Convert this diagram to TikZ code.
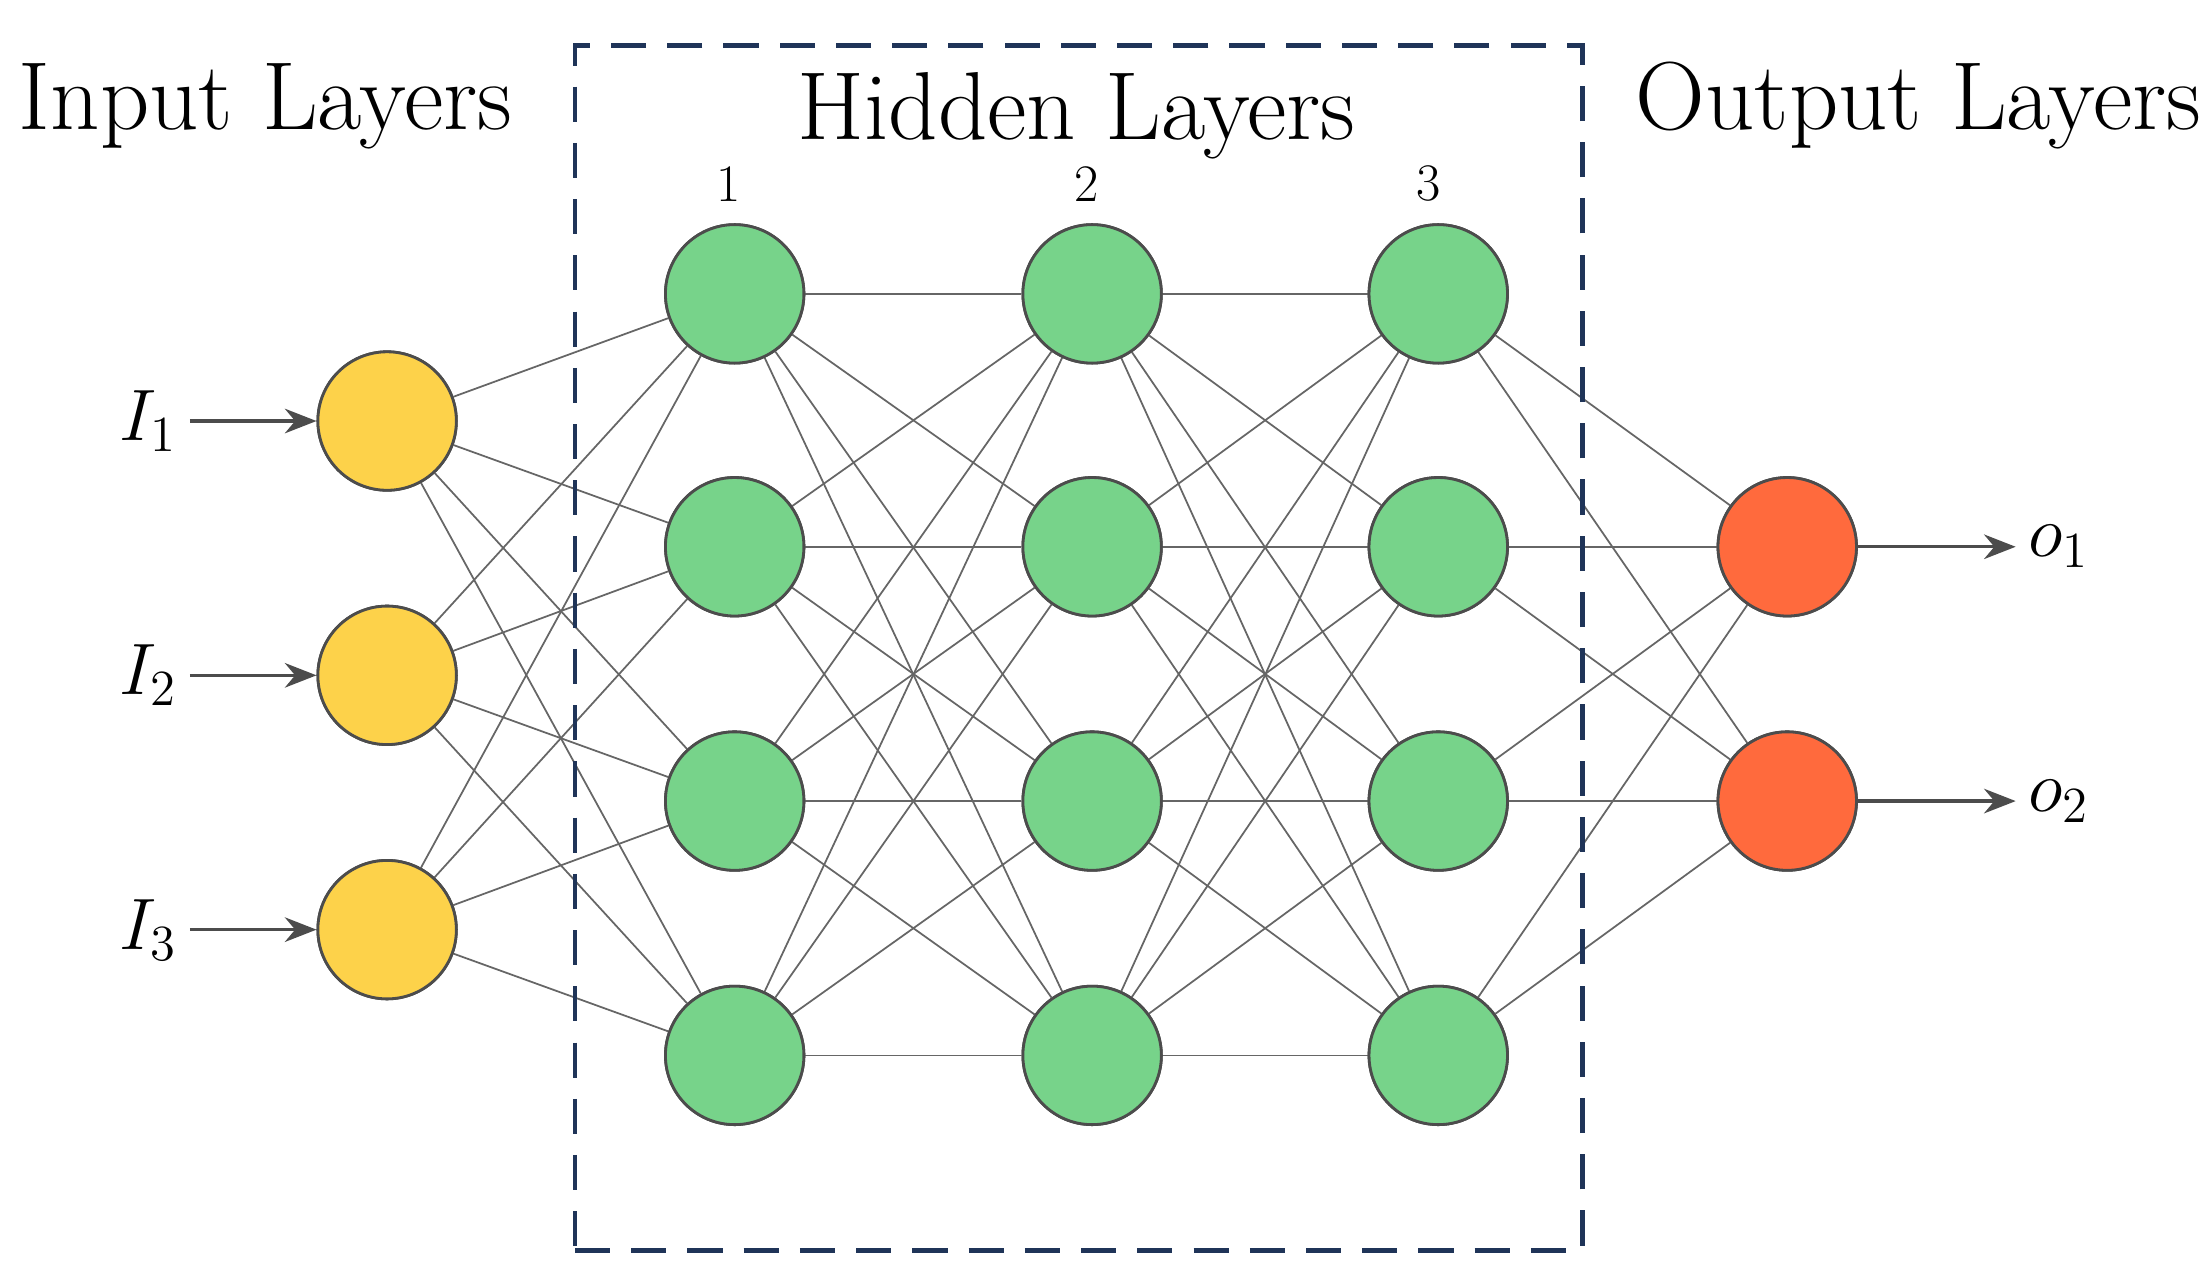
\documentclass[tikz,border=0pt]{standalone}
\usepackage{amsmath}
\usetikzlibrary{arrows.meta}
\definecolor{inyellow}{HTML}{FDD24A}
\definecolor{hidgreen}{HTML}{77D38A}
\definecolor{outred}{HTML}{FF6A3D}
\definecolor{boxnavy}{HTML}{1F3458}
\begin{document}
\begin{tikzpicture}[x=0.01413cm,y=-0.01413cm,
    neuron/.style={circle,draw=black!70,line width=0.8pt,minimum size=98*0.01413cm,inner sep=0pt},
    input/.style={neuron,fill=inyellow},
    hidden/.style={neuron,fill=hidgreen},
    output/.style={neuron,fill=outred},
    link/.style={draw=black!60,line width=0.5pt},
    signal/.style={draw=black!70,line width=0.9pt,-{Stealth[length=9pt,width=7pt]}},
    title/.style={font=\fontsize{27.5}{32}\selectfont}]
    \useasboundingbox (0,0) rectangle (1560,903);

    % layers
    \foreach \i/\y in {1/298,2/478,3/658}
        \node[input] (in\i) at (274,\y) {};
    \foreach \l/\x in {1/520,2/773,3/1018}
        \foreach \j/\y in {1/208,2/387,3/567,4/747}
            \node[hidden] (h\l\j) at (\x,\y) {};
    \foreach \k/\y in {1/387,2/567}
        \node[output] (out\k) at (1265,\y) {};

    % connections
    \foreach \i in {1,2,3}
        \foreach \j in {1,...,4}
            \draw[link] (in\i) -- (h1\j);
    \foreach \j in {1,...,4}
        \foreach \m in {1,...,4} {
            \draw[link] (h1\j) -- (h2\m);
            \draw[link] (h2\j) -- (h3\m);
        }
    \foreach \j in {1,...,4}
        \foreach \k in {1,2}
            \draw[link] (h3\j) -- (out\k);

    % redraw nodes on top
    \foreach \i/\y in {1/298,2/478,3/658}
        \node[input] at (274,\y) {};
    \foreach \l/\x in {1/520,2/773,3/1018}
        \foreach \j/\y in {1/208,2/387,3/567,4/747}
            \node[hidden] at (\x,\y) {};
    \foreach \k/\y in {1/387,2/567}
        \node[output] at (1265,\y) {};

    % inputs and outputs
    \foreach \i/\y in {1/298,2/478,3/658} {
        \node[font=\fontsize{20}{24}\selectfont] (lab\i) at (105,\y) {$I_{\i}$};
        \draw[signal] (lab\i.east) -- (in\i.west);
    }
    \foreach \k/\y in {1/387,2/567} {
        \node[font=\fontsize{20}{24}\selectfont] (res\k) at (1457,\y) {$o_{\k}$};
        \draw[signal] (out\k.east) -- (res\k.west);
    }

    % hidden box and titles
    \node[draw=boxnavy,line width=1.4pt,dash pattern=on 10pt off 6pt,
          minimum width=713*0.01413cm,minimum height=853*0.01413cm] (box) at (763.5,458.5) {};
    \node[title] (tin) at (188,75) {Input Layers};
    \node[title] (thid) at (762,82) {Hidden Layers};
    \node[title] (tout) at (1358,75) {Output Layers};
    \foreach \l/\x in {1/516,2/769,3/1011}
        \node[font=\fontsize{15}{18}\selectfont] (num\l) at (\x,130) {\l};
\end{tikzpicture}
\end{document}
